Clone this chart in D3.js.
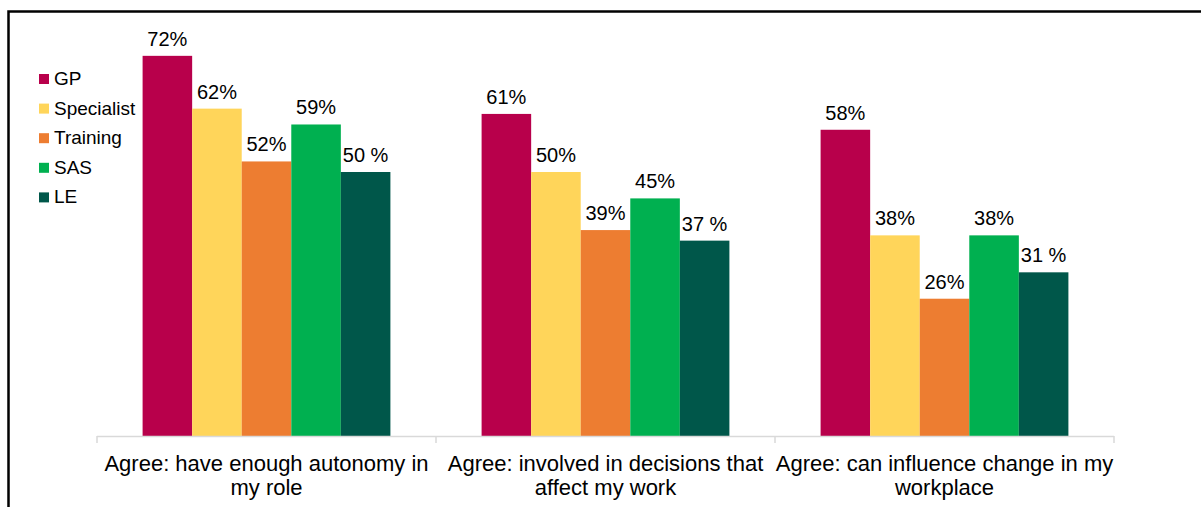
<!doctype html>
<html lang="en">
<head>
	<meta charset="UTF-8">
	<title>Agreement by grade</title>
	<style>
		body {
			margin: 0;
			background: #fff;
		}
		svg text {
			font-family: Arial, "Liberation Sans", sans-serif;
			fill: #000;
		}
		.frame {
			fill: none;
			stroke: #000;
			stroke-width: 2.5px;
		}
		.axis-line {
			stroke: #d9d9d9;
			stroke-width: 1.5px;
		}
	</style>
</head>
<body>
	<script src="https://cdn.jsdelivr.net/npm/d3@7"></script>
	<script>
		// categories (already split into the two lines shown under the axis)
		var categories = ['autonomy', 'decisions', 'change'];
		var categoryLines = [
			['Agree: have enough autonomy in', 'my role'],
			['Agree: involved in decisions that', 'affect my work'],
			['Agree: can influence change in my', 'workplace']
		];

		var series = ['GP', 'Specialist', 'Training', 'SAS', 'LE'];
		var colors = ['#b8004b', '#ffd55a', '#ed7d31', '#00b050', '#00574a'];

		// values per series, one per category
		var gpValues = [72, 61, 58];
		var specialistValues = [62, 50, 38];
		var trainingValues = [52, 39, 26];
		var sasValues = [59, 45, 38];
		var leValues = [50, 37, 31];
		var allValues = [gpValues, specialistValues, trainingValues, sasValues, leValues];

		// LE labels are written with a space before the % sign
		var labelFormats = ['{v}%', '{v}%', '{v}%', '{v}%', '{v} %'];

		var w = 1201,
			h = 507,
			axisY = 436;

		var svg = d3.select('body')
			.append('svg')
			.attr('width', w)
			.attr('height', h);

		// outer frame (only top and left edges show)
		svg.append('path')
			.attr('class', 'frame')
			.attr('d', 'M8.5,' + h + 'V11.5H' + w);

		var x0 = d3.scaleBand()
			.domain(categories)
			.range([97, 1114]);

		var x1 = d3.scaleBand()
			.domain(series)
			.range([0, x0.bandwidth()])
			.paddingOuter(0.92);

		var y = d3.scaleLinear()
			.domain([0, 80])
			.range([axisY, axisY - 80 * 5.28]);

		// build flat bar data
		var bars = [];
		categories.forEach(function(c, ci) {
			series.forEach(function(s, si) {
				bars.push({
					cat: c,
					series: s,
					si: si,
					value: allValues[si][ci]
				});
			});
		});

		var groups = svg.append('g').attr('class', 'bars');

		groups.selectAll('rect')
			.data(bars)
			.enter()
			.append('rect')
			.attr('x', function(d) { return x0(d.cat) + x1(d.series); })
			.attr('y', function(d) { return y(d.value); })
			.attr('width', x1.bandwidth())
			.attr('height', function(d) { return axisY - y(d.value); })
			.attr('fill', function(d) { return colors[d.si]; });

		groups.selectAll('text')
			.data(bars)
			.enter()
			.append('text')
			.attr('x', function(d) { return x0(d.cat) + x1(d.series) + x1.bandwidth() / 2; })
			.attr('y', function(d) { return y(d.value) - 10; })
			.attr('text-anchor', 'middle')
			.style('font-size', '20px')
			.text(function(d) { return labelFormats[d.si].replace('{v}', d.value); });

		// category axis with ticks on the band edges
		var axis = svg.append('g').attr('class', 'axis');
		axis.append('line')
			.attr('class', 'axis-line')
			.attr('x1', x0.range()[0])
			.attr('x2', x0.range()[1])
			.attr('y1', axisY + 0.5)
			.attr('y2', axisY + 0.5);

		var edges = categories.map(function(c) { return x0(c); }).concat([x0.range()[1]]);
		axis.selectAll('.tick')
			.data(edges)
			.enter()
			.append('line')
			.attr('class', 'axis-line tick')
			.attr('x1', function(d) { return d; })
			.attr('x2', function(d) { return d; })
			.attr('y1', axisY)
			.attr('y2', axisY + 7);

		axis.selectAll('.cat-label')
			.data(categories)
			.enter()
			.append('text')
			.attr('class', 'cat-label')
			.attr('text-anchor', 'middle')
			.style('font-size', '22px')
			.each(function(c, i) {
				var t = d3.select(this);
				categoryLines[i].forEach(function(line, li) {
					t.append('tspan')
						.attr('x', x0(c) + x0.bandwidth() / 2)
						.attr('y', 471 + li * 24)
						.text(line);
				});
			});

		// legend
		var legend = svg.append('g')
			.attr('class', 'legend')
			.attr('transform', 'translate(39,74)');

		var items = legend.selectAll('g')
			.data(series)
			.enter()
			.append('g')
			.attr('transform', function(d, i) { return 'translate(0,' + (i * 29.6) + ')'; });

		items.append('rect')
			.attr('width', 10)
			.attr('height', 10)
			.attr('fill', function(d, i) { return colors[i]; });

		items.append('text')
			.attr('x', 15)
			.attr('y', 11)
			.style('font-size', '19px')
			.text(function(d) { return d; });
	</script>
</body>
</html>
